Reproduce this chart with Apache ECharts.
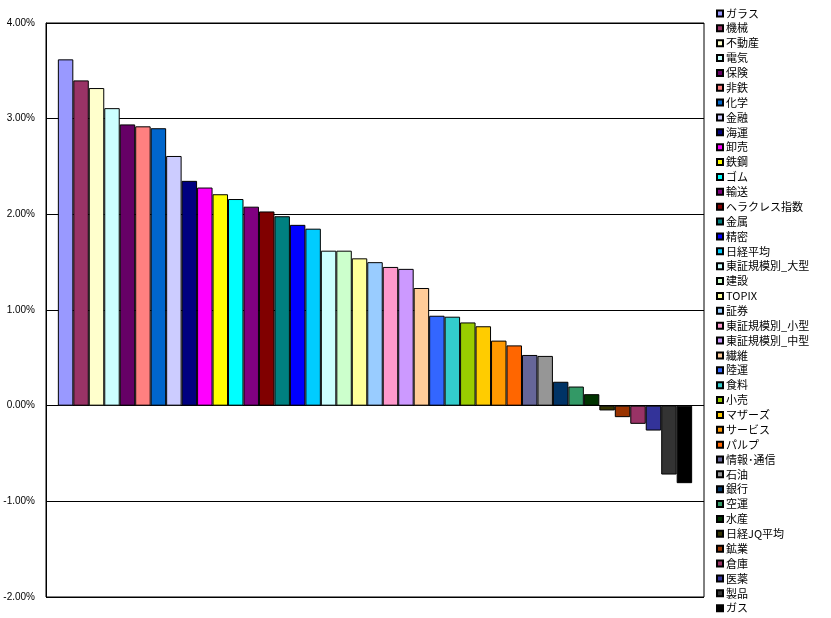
<!DOCTYPE html>
<html>
<head>
<meta charset="utf-8">
<script src="https://cdn.jsdelivr.net/npm/echarts@6/dist/echarts.min.js"></script>
<style>html,body{margin:0;padding:0;background:#fff}#c{width:831px;height:618px}</style>
</head>
<body>
<div id="c"></div>
<script>
const names = ['ガラス','機械','不動産','電気','保険','非鉄','化学','金融','海運','卸売','鉄鋼','ゴム','輸送','ヘラクレス指数','金属','精密','日経平均','東証規模別_大型','建設','TOPIX','証券','東証規模別_小型','東証規模別_中型','繊維','陸運','食料','小売','マザーズ','サービス','パルプ','情報･通信','石油','銀行','空運','水産','日経JQ平均','鉱業','倉庫','医薬','製品','ガス'];
const values = [3.62,3.40,3.32,3.11,2.94,2.92,2.90,2.61,2.35,2.28,2.21,2.16,2.08,2.03,1.98,1.89,1.85,1.62,1.62,1.54,1.50,1.45,1.43,1.23,0.94,0.93,0.87,0.83,0.68,0.63,0.53,0.52,0.25,0.20,0.12,-0.05,-0.12,-0.19,-0.26,-0.72,-0.81];
const colors = ['#9999FF','#993366','#FFFFCC','#CCFFFF','#660066','#FF8080','#0066CC','#CCCCFF','#000080','#FF00FF','#FFFF00','#00FFFF','#800080','#800000','#008080','#0000FF','#00CCFF','#CCFFFF','#CCFFCC','#FFFF99','#99CCFF','#FF99CC','#CC99FF','#FFCC99','#3366FF','#33CCCC','#99CC00','#FFCC00','#FF9900','#FF6600','#666699','#969696','#003366','#339966','#003300','#333300','#993300','#993366','#333399','#333333','#000000'];
const yTicks = [-2,-1,0,1,2,3,4];

const series = names.map((n,i)=>({
  name:n, type:'bar', data:[values[i]],
  barGap:'0%', barCategoryGap:'3.6%',
  itemStyle:{color:colors[i], borderColor:'#000', borderWidth:1},
  animation:false
}));

const chart = echarts.init(document.getElementById('c'));
chart.setOption({
  backgroundColor:'#fff',
  animation:false,
  grid:{left:46, right:127, top:23, bottom:21, show:true, borderColor:'#000', borderWidth:1, backgroundColor:'#fff'},
  xAxis:{type:'category', data:[''], axisLine:{show:false}, axisTick:{show:false}, axisLabel:{show:false}},
  yAxis:{type:'value', min:yTicks[0], max:yTicks[yTicks.length-1], interval:1,
    axisLine:{show:true, lineStyle:{color:'#000', width:1}},
    axisTick:{show:false},
    splitLine:{show:true, lineStyle:{color:'#000', width:1}},
    axisLabel:{margin:11, color:'#000', fontSize:10, fontFamily:'Liberation Sans, Arial, sans-serif',
      formatter:v=>v.toFixed(2)+'%'}
  },
  legend:{orient:'vertical', left:716, top:7.4, height:700, padding:0, itemWidth:6, itemHeight:6, itemGap:2.87,
    icon:'rect', selectedMode:false,
    textStyle:{fontSize:11, lineHeight:12, color:'#000', fontFamily:'Noto Sans CJK JP, sans-serif', padding:[0,0,0,-2]},
    data:names},
  series:series
});
</script>
</body>
</html>
